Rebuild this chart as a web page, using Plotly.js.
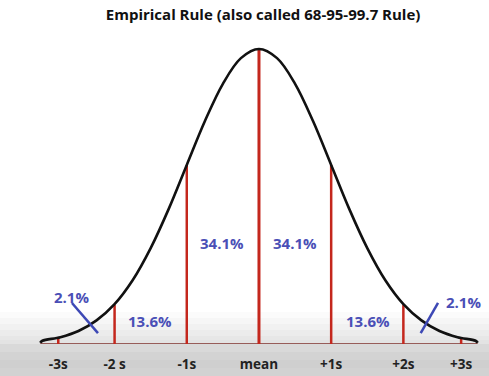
<!DOCTYPE html>
<html>
<head>
<meta charset="utf-8">
<script src="https://cdn.plot.ly/plotly-3.0.1.min.js"></script>
<style>html,body{margin:0;padding:0;background:#fff}#chart{width:489px;height:376px}</style>
</head>
<body>
<div id="chart"></div>
<script>
// Curve (x in standard deviations, height relative to the peak)
var curveX = [-3.03, -3.0, -2.75, -2.5, -2.25, -2.0, -1.75, -1.5, -1.25, -1.0, -0.75, -0.5, -0.25, 0,
              0.25, 0.5, 0.75, 1.0, 1.25, 1.5, 1.75, 2.0, 2.25, 2.5, 2.75, 3.0, 3.03];
var curveY = [0.004, 0.011, 0.023, 0.044, 0.080, 0.135, 0.216, 0.325, 0.458, 0.607, 0.755, 0.882, 0.969, 1.0,
              0.969, 0.882, 0.755, 0.607, 0.458, 0.325, 0.216, 0.135, 0.080, 0.044, 0.023, 0.011, 0.004];
// Red boundary lines
var boundaryX = [-2.78, -2, -1, 0, 1, 2, 2.8];
var boundaryH = [0.02, 0.132, 0.607, 1.0, 0.607, 0.132, 0.02];
// Tick labels
var tickVals = [-2.78, -2, -1, 0, 1, 2, 2.8];
var tickLabels = ['-3s', '-2 s', '-1s', 'mean', '+1s', '+2s', '+3s'];
// Percent labels for each region
var pctLabels = ['2.1%', '13.6%', '34.1%', '34.1%', '13.6%', '2.1%'];
var pctX = [-2.59, -1.51, -0.51, 0.50, 1.51, 2.83];
var pctY = [0.159, 0.078, 0.342, 0.342, 0.078, 0.142];
// Blue pointer strokes for the tail regions
var pointerX = [[-2.59, -2.23], [2.48, 2.24]];
var pointerY = [[0.139, 0.037], [0.139, 0.037]];

var red = '#c4271d';
var blue = '#4a4fb6';
var traces = [];

// baseline
traces.push({x: [curveX[0], curveX[curveX.length - 1]], y: [0, 0], mode: 'lines',
  line: {color: '#7e2f2b', width: 1.6}, hoverinfo: 'skip', showlegend: false});

// red boundary lines
boundaryX.forEach(function (bx, i) {
  traces.push({x: [bx, bx], y: [0, boundaryH[i]], mode: 'lines',
    line: {color: red, width: bx === 0 ? 3 : 2.5}, hoverinfo: 'skip', showlegend: false});
});

// curve
traces.push({x: curveX, y: curveY, mode: 'lines', line: {color: '#111', width: 2.6, shape: 'spline', smoothing: 1},
  hoverinfo: 'skip', showlegend: false});

// blue pointers
pointerX.forEach(function (px, i) {
  traces.push({x: px, y: pointerY[i], mode: 'lines', line: {color: '#3d48b5', width: 2.5},
    hoverinfo: 'skip', showlegend: false});
});

var annotations = pctLabels.map(function (t, i) {
  return {x: pctX[i], y: pctY[i], xref: 'x', yref: 'y', text: t, showarrow: false,
    font: {family: 'Open Sans, sans-serif', size: 15, color: blue, weight: 'bold'}};
});

// soft grey band at the bottom (video strip) built from stacked rectangles
var shapes = [];
var H = 344;
var bandTop = [312, 318, 324, 330, 336, 340, 344, 352, 360, 368];
var bandCol = ['#fbfbfb', '#f6f6f6', '#f1f1f1', '#ececec', '#e7e7e7', '#e3e3e3', '#d9d9d9', '#d3d3d3', '#cfcfcf', '#d2d2d2'];
for (var i = 0; i < bandTop.length; i++) {
  var y0 = bandTop[i], y1 = (i + 1 < bandTop.length) ? bandTop[i + 1] : 376;
  shapes.push({type: 'rect', xref: 'paper', yref: 'paper', x0: 0, x1: 1,
    y0: (H - y1) / H, y1: (H - y0) / H, fillcolor: bandCol[i], line: {width: 0}, layer: 'below'});
}

var layout = {
  width: 489, height: 376,
  margin: {l: 0, r: 0, t: 0, b: 32},
  paper_bgcolor: '#ffffff', plot_bgcolor: 'rgba(0,0,0,0)',
  title: {text: 'Empirical Rule (also called 68-95-99.7 Rule)', x: 0.538, xanchor: 'center',
    y: 1 - 15 / 376, yanchor: 'middle', yref: 'container',
    font: {family: 'Open Sans, sans-serif', size: 15, color: '#111', weight: 'bold'}},
  xaxis: {range: [-3.587, 3.186], showgrid: false, zeroline: false, showline: false,
    tickvals: tickVals, ticktext: tickLabels, ticks: '', ticklabelstandoff: 10,
    tickfont: {family: 'Open Sans, sans-serif', size: 13.5, color: '#222', weight: 'bold'}, fixedrange: true},
  yaxis: {range: [0, 1.166], visible: false, fixedrange: true},
  annotations: annotations,
  shapes: shapes,
  showlegend: false
};

Plotly.newPlot('chart', traces, layout, {displayModeBar: false, staticPlot: true});
</script>
</body>
</html>
